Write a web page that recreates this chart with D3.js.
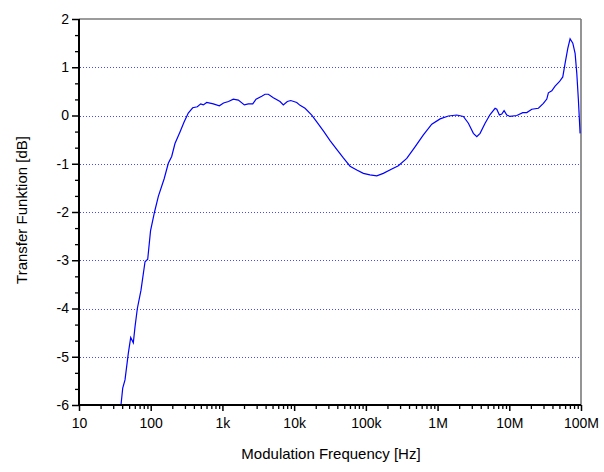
<!DOCTYPE html>
<html><head><meta charset="utf-8">
<script src="https://cdn.jsdelivr.net/npm/d3@7"></script>
<style>
body{margin:0;background:#fff;}
text{font-family:"Liberation Sans",Arial,sans-serif;fill:#000;}
</style></head>
<body><svg id="c" width="604" height="472"></svg>
<script>
const freq = [38.5,40.7,43.8,48.7,52.6,57.2,60.4,65.1,73.2,83.3,90.8,99.4,113,128,154,176,196,218,256,291,334,385,447,498,542,604,747,905,1036,1216,1419,1667,2021,2297,2647,2942,3532,3928,4366,5128,6355,7066,8035,8966,10870,12084,14190,17600,20670,25550,31670,39270,48530,60200,74650,92300,114000,142000,175000,230000,284000,372000,485000,634000,830000,1084000,1415000,1853000,2290000,2690000,3157000,3522000,3915000,4598000,5398000,6340000,6695000,7277000,7862000,8463000,9230000,10260000,12720000,15430000,17540000,20600000,25470000,29900000,33340000,35100000,39150000,43530000,49950000,55720000,59980000,65450000,70480000,76850000,82750000,87390000,91990000,97140000];
const gain = [-6.0,-5.65,-5.48,-4.93,-4.6,-4.71,-4.38,-4.0,-3.62,-3.03,-2.98,-2.39,-2.0,-1.67,-1.31,-0.99,-0.85,-0.58,-0.34,-0.14,0.05,0.16,0.18,0.24,0.22,0.27,0.24,0.2,0.26,0.29,0.34,0.32,0.22,0.24,0.24,0.34,0.40,0.44,0.44,0.37,0.29,0.22,0.29,0.31,0.27,0.21,0.15,0.01,-0.13,-0.32,-0.52,-0.70,-0.88,-1.05,-1.13,-1.20,-1.23,-1.25,-1.20,-1.11,-1.04,-0.89,-0.65,-0.40,-0.18,-0.07,-0.01,0.01,-0.02,-0.16,-0.37,-0.44,-0.37,-0.16,0.02,0.15,0.13,0.01,0.03,0.1,0.01,-0.02,0,0.06,0.06,0.13,0.15,0.25,0.34,0.47,0.51,0.61,0.70,0.80,1.08,1.39,1.59,1.50,1.29,0.87,0.32,-0.37];
const xTickVals = [10,100,1e3,1e4,1e5,1e6,1e7,1e8];
const xTickLabels = ["10","100","1k","10k","100k","1M","10M","100M"];
const yTickVals = [2,1,0,-1,-2,-3,-4,-5,-6];
const gridVals = [1,0,-1,-2,-3,-4,-5];
const xTitle = "Modulation Frequency [Hz]";
const yTitle = "Transfer Funktion [dB]";

const L=79,R=581,T=19,B=405;
const svg=d3.select("#c");
const x=d3.scaleLog().domain([10,1e8]).range([L,R]);
const y=d3.scaleLinear().domain([-6,2]).range([B,T]);

// grid
svg.append("g").selectAll("line").data(gridVals).join("line")
 .attr("x1",L+1).attr("x2",R-1).attr("y1",d=>Math.round(y(d))+0.5).attr("y2",d=>Math.round(y(d))+0.5)
 .attr("stroke","#4848ff").attr("stroke-width",1).attr("stroke-dasharray","1,2");

// frame top/right
svg.append("line").attr("x1",L).attr("x2",R).attr("y1",T).attr("y2",T).attr("stroke","#7a7a7a").attr("stroke-width",1.6);
svg.append("line").attr("x1",R).attr("x2",R).attr("y1",T).attr("y2",B).attr("stroke","#7a7a7a").attr("stroke-width",1.6);

// curve
svg.append("clipPath").attr("id","cp").append("rect").attr("x",L).attr("y",T).attr("width",R-L).attr("height",B-T);
svg.append("path").datum(freq.map((f,i)=>[f,gain[i]]))
 .attr("clip-path","url(#cp)")
 .attr("fill","none").attr("stroke","#0000ff").attr("stroke-width",1.2)
 .attr("d",d3.line().x(d=>x(d[0])).y(d=>y(d[1])));

// x axis
const minorX=[];
for(let e=1;e<8;e++){for(let k=2;k<10;k++)minorX.push(k*Math.pow(10,e));}
const gx=svg.append("g").attr("transform",`translate(0,${B})`);
gx.append("g").call(d3.axisBottom(x).tickValues(minorX).tickSize(4).tickFormat(""))
 .call(g=>g.select(".domain").remove()).selectAll("line").attr("stroke-width",1.3);
gx.append("g").call(d3.axisBottom(x).tickValues(xTickVals).tickSize(6).tickPadding(7).tickFormat((d,i)=>xTickLabels[i]))
 .call(g=>g.select(".domain").attr("stroke-width",2).attr("d",`M${L},0H${R}`))
 .call(g=>g.selectAll("line").attr("stroke-width",1.5))
 .call(g=>g.selectAll("text").attr("font-size",14).attr("font-family","Liberation Sans, Arial, sans-serif"));

// y axis
const minorY=[];
for(let v=-6;v<2;v++){minorY.push(v+1/3,v+2/3);}
const gy=svg.append("g").attr("transform",`translate(${L},0)`);
gy.append("g").call(d3.axisLeft(y).tickValues(minorY).tickSize(4).tickFormat(""))
 .call(g=>g.select(".domain").remove()).selectAll("line").attr("stroke-width",1.3);
gy.append("g").call(d3.axisLeft(y).tickValues(yTickVals).tickSize(7).tickPadding(3).tickFormat(d=>d<0?"-"+Math.abs(d):String(d)))
 .call(g=>g.select(".domain").attr("stroke-width",2).attr("d",`M0,${T}V${B}`))
 .call(g=>g.selectAll("line").attr("stroke-width",1.5))
 .call(g=>g.selectAll("text").attr("font-size",14).attr("font-family","Liberation Sans, Arial, sans-serif"));

svg.append("text").attr("x",331).attr("y",459).attr("text-anchor","middle").attr("font-size",15).text(xTitle);
svg.append("text").attr("transform",`translate(27,210) rotate(-90)`).attr("text-anchor","middle").attr("font-size",15).text(yTitle);
</script></body></html>
